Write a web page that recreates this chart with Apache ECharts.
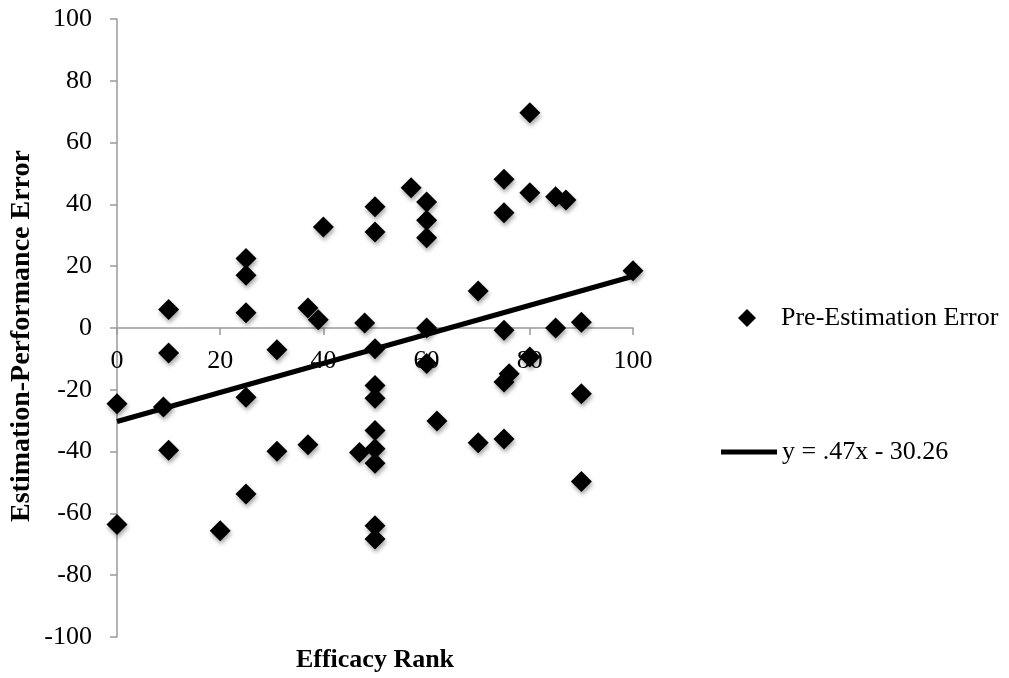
<!DOCTYPE html>
<html>
<head>
<meta charset="utf-8">
<script src="https://cdn.jsdelivr.net/npm/echarts@6/dist/echarts.min.js"></script>
<style>
html,body{margin:0;padding:0;background:#fff;}
#chart{width:1009px;height:678px;}
</style>
</head>
<body>
<div id="chart"></div>
<script>
// Efficacy rank (x) and estimation-performance error (y)
const efficacyRank = [0, 0, 9, 10, 10, 10, 20, 25, 25, 25, 25, 25, 31, 31, 37, 39, 40, 37, 47, 48,
  50, 50, 50, 50, 50, 50, 50, 50, 50, 50, 57, 60, 60, 60, 60, 60, 62, 70, 70, 75,
  75, 75, 75, 76, 75, 80, 80, 80, 85, 87, 85, 90, 90, 90, 100];
const estimationError = [-24.5, -63.6, -25.6, 6, -8.1, -39.6, -65.6, 22.5, 17.1, 4.9, -22.4, -53.7, -7, -39.9, 6.5, 2.7, 32.7, -37.8, -40.3, 1.6,
  39.2, 31.1, -6.7, -18.6, -22.7, -33.2, -39.1, -43.8, -64, -68.3, 45.4, 40.8, 34.9, 29.2, 0, -11.5, -30.1, 12, -37.1, 48.1,
  37.3, -0.7, -17.5, -14.8, -35.9, 69.7, 43.8, -9.4, 42.5, 41.4, 0, 1.9, -21.3, -49.7, 18.5];
// Trendline y = .47x - 30.26 endpoints
const trendX = [0, 100];
const trendY = [-30.26, 16.74];
const seriesNames = ['Pre-Estimation Error', 'y = .47x - 30.26'];
const xTitle = 'Efficacy Rank';
const yTitle = 'Estimation-Performance Error';

const scatterData = efficacyRank.map((x, i) => [x, estimationError[i]]);
const trendData = trendX.map((x, i) => [x, trendY[i]]);

const FONT = '"Liberation Serif", "Times New Roman", serif';
const AX = '#9a9a9a';

const chart = echarts.init(document.getElementById('chart'), null, {renderer: 'canvas'});
chart.setOption({
  animation: false,
  backgroundColor: '#fff',
  textStyle: {fontFamily: FONT},
  grid: {left: 117, top: 19, width: 516, height: 618, containLabel: false, outerBoundsMode: 'none'},
  legend: [
    {
      data: [{name: seriesNames[0], icon: 'diamond'}],
      left: 738, top: 305, padding: 0,
      itemWidth: 18, itemHeight: 18,
      textStyle: {fontFamily: FONT, fontSize: 26, color: '#000', padding: [0, 0, 0, 20]},
      selectedMode: false
    },
    {
      data: [{name: seriesNames[1], icon: 'rect'}],
      left: 721, top: 439, padding: 0,
      itemWidth: 56, itemHeight: 5,
      textStyle: {fontFamily: FONT, fontSize: 26, color: '#000'},
      selectedMode: false
    }
  ],
  graphic: [
    {
      type: 'text', x: 375, y: 660,
      style: {text: xTitle, font: 'bold 26px ' + FONT, fill: '#000', align: 'center', verticalAlign: 'middle'}
    },
    {
      type: 'text', rotation: Math.PI / 2, x: 22, y: 336,
      style: {text: yTitle, font: 'bold 28px ' + FONT, fill: '#000', align: 'center', verticalAlign: 'middle'}
    }
  ],
  xAxis: {
    type: 'value', min: 0, max: 100, interval: 20,
    position: 'bottom', offset: -309,
    axisLine: {show: true, onZero: false, lineStyle: {color: AX, width: 1.5}},
    axisTick: {show: true, length: 7, lineStyle: {color: AX, width: 1.5}},
    axisLabel: {fontFamily: FONT, fontSize: 26, color: '#000', margin: 20},
    splitLine: {show: false}
  },
  yAxis: {
    type: 'value', min: -100, max: 100, interval: 20,
    axisLine: {show: true, onZero: false, lineStyle: {color: AX, width: 1.5}},
    axisTick: {show: true, length: 7, lineStyle: {color: AX, width: 1.5}},
    axisLabel: {fontFamily: FONT, fontSize: 26, color: '#000', margin: 25},
    splitLine: {show: false}
  },
  series: [
    {
      name: seriesNames[0], type: 'scatter',
      symbol: 'diamond', symbolSize: [21, 21],
      itemStyle: {color: '#000', opacity: 1, shadowColor: 'rgba(0,0,0,0.35)', shadowBlur: 4, shadowOffsetX: 1, shadowOffsetY: 3},
      data: scatterData, z: 2
    },
    {
      name: seriesNames[1], type: 'line',
      showSymbol: false, symbol: 'none',
      lineStyle: {color: '#000', width: 5},
      itemStyle: {color: '#000'},
      data: trendData, z: 3
    }
  ]
});
</script>
</body>
</html>
